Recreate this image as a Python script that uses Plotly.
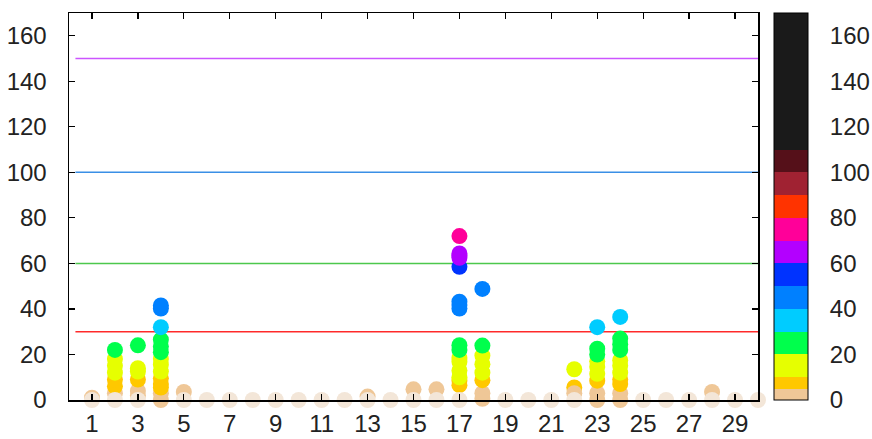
import plotly.graph_objects as go

# ---- data ----
col_1 = [1]
col_2 = [3, 6, 9, 12, 15, 18, 22]
col_3 = [2, 4, 9, 12.5, 14, 24]
col_4 = [0, 3, 5.5, 7, 9.5, 12.5, 15.5, 18, 21, 23.5, 26.5, 32, 40.2, 41.5]
col_5 = [3.5]
col_13 = [1.5]
col_15 = [4.7]
col_16 = [4.7]
col_17 = [6.5, 8.5, 10, 13, 16.8, 18.5, 22, 24.1, 40.2, 41.7, 43.2, 58.5, 62.5, 63.5, 64.4, 72]
col_18 = [0.5, 3, 8.7, 12, 15.7, 19.5, 23.9, 48.8]
col_22 = [5.5, 3, 13.5]
col_23 = [0, 3, 8.5, 11.5, 14.5, 17, 20, 22.5, 32]
col_24 = [0, 3, 7, 9, 12, 15, 17.5, 22, 24.5, 27, 36.5]
col_28 = [3.5]

columns = {1: col_1, 2: col_2, 3: col_3, 4: col_4, 5: col_5, 13: col_13,
           15: col_15, 16: col_16, 17: col_17, 18: col_18, 22: col_22,
           23: col_23, 24: col_24, 28: col_28}

baseline_x = [1, 2, 3, 5, 6, 7, 8, 9, 10, 11, 12, 13, 14, 15, 16, 17, 19, 20,
              21, 22, 25, 26, 27, 28, 29, 30]
baseline_y = [0] * len(baseline_x)

threshold_values = [30, 60, 100, 150]
threshold_colors = ["#ff2a2a", "#4cc84c", "#3a8fe6", "#cc55ff"]

band_edges = [0, 5, 10, 20, 30, 40, 50, 60, 70, 80, 90, 100, 110, 170]
band_colors = ["#efc797", "#ffc800", "#e6ff00", "#00ff4c", "#00ccff", "#0080ff",
               "#0033ff", "#b300ff", "#ff0099", "#ff3300", "#a02232", "#551019",
               "#1a1a1a"]

x_ticks = list(range(1, 30, 2))
y_ticks = list(range(0, 161, 20))
cmin, cmax = 0, 170
x_range = [0, 30]
line_x = [0.28, 30]

# ---- flatten points ----
point_x, point_y = [], []
for cx, vals in columns.items():
    for v in vals:
        point_x.append(cx)
        point_y.append(v)

# ---- build colorscale ----
colorscale = []
for i, c in enumerate(band_colors):
    lo = (band_edges[i] - cmin) / (cmax - cmin)
    hi = (band_edges[i + 1] - cmin) / (cmax - cmin)
    colorscale.append([lo, c])
    colorscale.append([hi, c])

FONT = "Liberation Sans, Arial, sans-serif"
MS = 16

fig = go.Figure()

for v, c in zip(threshold_values, threshold_colors):
    fig.add_trace(go.Scatter(
        x=line_x, y=[v, v], mode="lines",
        line=dict(color=c, width=1.5), hoverinfo="skip", showlegend=False))

fig.add_trace(go.Scatter(
    x=point_x, y=point_y, mode="markers", cliponaxis=False, showlegend=False,
    marker=dict(
        size=MS, color=point_y, colorscale=colorscale, cmin=cmin, cmax=cmax,
        line=dict(width=0), opacity=1,
        showscale=True,
        colorbar=dict(
            x=1.0232, xanchor="left", xpad=0, ypad=0,
            y=0.5, yanchor="middle", len=1, lenmode="fraction",
            thickness=34, thicknessmode="pixels",
            outlinewidth=1, outlinecolor="black",
            tickvals=y_ticks, ticks="outside", ticklen=17,
            tickcolor="rgba(0,0,0,0)",
            tickfont=dict(family=FONT, size=24, color="#222"),
        ),
    ),
))

fig.add_trace(go.Scatter(
    x=baseline_x, y=baseline_y, mode="markers", cliponaxis=False, showlegend=False,
    marker=dict(size=MS, color="#f3e6d8", line=dict(width=0)),
))

axis_common = dict(
    showline=True, linecolor="black", linewidth=1.5, mirror="ticks",
    ticks="inside", ticklen=6, tickwidth=1.2, tickcolor="black",
    showgrid=False, zeroline=False,
    tickfont=dict(family=FONT, size=24, color="#222"),
)

fig.update_layout(
    width=872, height=439,
    margin=dict(l=69, r=114, t=13, b=39, autoexpand=False),
    paper_bgcolor="white", plot_bgcolor="white",
    hovermode=False,
    xaxis=dict(range=x_range, tickvals=x_ticks, ticklabelstandoff=2, **axis_common),
    yaxis=dict(range=[cmin, cmax], tickvals=y_ticks, ticklabelstandoff=16, **axis_common),
)

fig.write_html("out.html", config={"displayModeBar": False, "staticPlot": True},
               post_script="document.body.style.margin='0px';document.body.style.overflow='hidden';")
